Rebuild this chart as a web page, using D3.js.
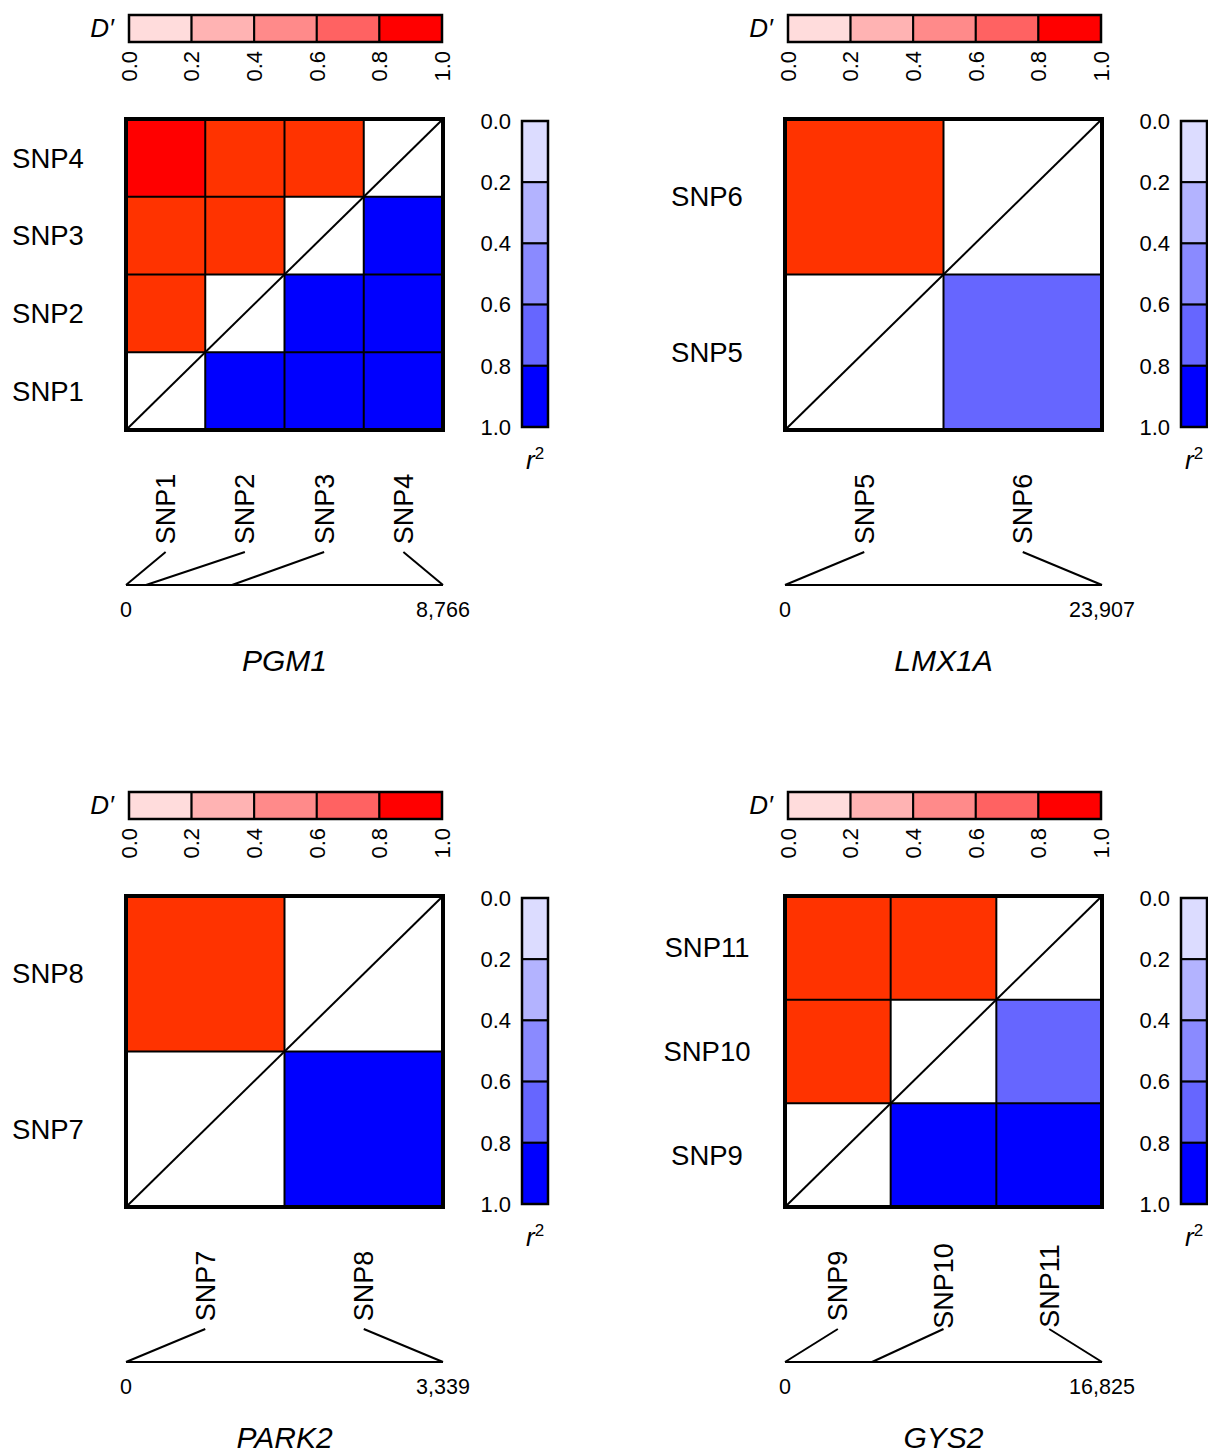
<!DOCTYPE html>
<html>
<head>
<meta charset="utf-8">
<script src="https://cdn.jsdelivr.net/npm/d3@7"></script>
<style>
  html, body { margin: 0; padding: 0; background: #fff; }
  svg text { font-family: "Liberation Sans", Arial, sans-serif; fill: #000; }
</style>
</head>
<body>
<svg id="chart" width="1208" height="1452"></svg>
<script>
// ---------------- data ----------------
const genes = ["PGM1", "LMX1A", "PARK2", "GYS2"];
const geneLengths = [8766, 23907, 3339, 16825];

const pgm1Snps = ["SNP1", "SNP2", "SNP3", "SNP4"];
const lmx1aSnps = ["SNP5", "SNP6"];
const park2Snps = ["SNP7", "SNP8"];
const gys2Snps = ["SNP9", "SNP10", "SNP11"];

const pgm1Pos = [0, 553, 2931, 8766];
const lmx1aPos = [0, 23907];
const park2Pos = [0, 3339];
const gys2Pos = [0, 4618, 16825];

// pair values [snpA, snpB, value]
const pgm1Dprime = [["SNP1","SNP2",0.9],["SNP1","SNP3",0.9],["SNP1","SNP4",1.0],["SNP2","SNP3",0.9],["SNP2","SNP4",0.9],["SNP3","SNP4",0.9]];
const pgm1R2 = [["SNP1","SNP2",0.9],["SNP1","SNP3",0.9],["SNP1","SNP4",0.9],["SNP2","SNP3",0.9],["SNP2","SNP4",0.9],["SNP3","SNP4",0.9]];
const lmx1aDprime = [["SNP5","SNP6",0.9]];
const lmx1aR2 = [["SNP5","SNP6",0.7]];
const park2Dprime = [["SNP7","SNP8",0.9]];
const park2R2 = [["SNP7","SNP8",0.9]];
const gys2Dprime = [["SNP9","SNP10",0.9],["SNP9","SNP11",0.9],["SNP10","SNP11",0.9]];
const gys2R2 = [["SNP9","SNP10",0.9],["SNP9","SNP11",0.9],["SNP10","SNP11",0.7]];

const legendTicks = [0, 0.2, 0.4, 0.6, 0.8, 1.0];
const dprimeColors = ["#FFDCDC", "#FFB3B3", "#FF8A8A", "#FF6262", "#FF0000"];
const r2Colors = ["#DCDCFF", "#B3B3FF", "#8A8AFF", "#6666FF", "#0000FF"];

const panels = [
  { gene: genes[0], len: geneLengths[0], snps: pgm1Snps, pos: pgm1Pos, dp: pgm1Dprime, r2: pgm1R2 },
  { gene: genes[1], len: geneLengths[1], snps: lmx1aSnps, pos: lmx1aPos, dp: lmx1aDprime, r2: lmx1aR2 },
  { gene: genes[2], len: geneLengths[2], snps: park2Snps, pos: park2Pos, dp: park2Dprime, r2: park2R2 },
  { gene: genes[3], len: geneLengths[3], snps: gys2Snps, pos: gys2Pos, dp: gys2Dprime, r2: gys2R2 }
];

// ---------------- layout ----------------
const origins = [[126, 119], [785, 119], [126, 896], [785, 896]];
const W = 317, H = 311;

const dCellColor = d3.scaleThreshold().domain([0.2, 0.4, 0.6, 0.8, 1.0])
  .range([...dprimeColors.slice(0, 4), "#FF3300", "#FF0000"]);
const rCellColor = d3.scaleThreshold().domain([0.2, 0.4, 0.6, 0.8])
  .range(r2Colors);

const svg = d3.select("#chart");

panels.forEach((p, pi) => {
  const [x0, y0] = origins[pi];
  const g = svg.append("g");

  const xb = d3.scaleBand().domain(p.snps).range([x0, x0 + W]);
  const yb = d3.scaleBand().domain(p.snps).range([y0 + H, y0]);

  // cells: D' above diagonal (col index < row index), r2 below
  const cells = [];
  p.dp.forEach(([a, b, v]) => cells.push({ col: a, row: b, fill: dCellColor(v) }));
  p.r2.forEach(([a, b, v]) => cells.push({ col: b, row: a, fill: rCellColor(v) }));
  g.selectAll("rect.cell").data(cells).join("rect")
    .attr("class", "cell")
    .attr("x", d => xb(d.col)).attr("y", d => yb(d.row))
    .attr("width", xb.bandwidth()).attr("height", yb.bandwidth())
    .attr("fill", d => d.fill);

  // internal grid lines
  g.selectAll("line.vg").data(p.snps.slice(1)).join("line")
    .attr("x1", d => xb(d)).attr("x2", d => xb(d))
    .attr("y1", y0).attr("y2", y0 + H)
    .attr("stroke", "#000").attr("stroke-width", 2);
  g.selectAll("line.hg").data(p.snps.slice(0, -1)).join("line")
    .attr("x1", x0).attr("x2", x0 + W)
    .attr("y1", d => yb(d)).attr("y2", d => yb(d))
    .attr("stroke", "#000").attr("stroke-width", 2);
  // diagonal
  g.append("line").attr("x1", x0).attr("y1", y0 + H).attr("x2", x0 + W).attr("y2", y0)
    .attr("stroke", "#000").attr("stroke-width", 2);
  // outer border
  g.append("rect").attr("x", x0).attr("y", y0).attr("width", W).attr("height", H)
    .attr("fill", "none").attr("stroke", "#000").attr("stroke-width", 4);

  // row labels
  g.selectAll("text.row").data(p.snps).join("text")
    .attr("x", x0 - 78).attr("y", d => yb(d) + yb.bandwidth() / 2)
    .attr("dy", "0.35em").attr("text-anchor", "middle")
    .attr("font-size", 27.5).text(d => d);

  // column labels (rotated)
  g.selectAll("text.col").data(p.snps).join("text")
    .attr("transform", d => `translate(${xb(d) + xb.bandwidth() / 2},${y0 + 390}) rotate(-90)`)
    .attr("dy", "0.35em").attr("text-anchor", "middle")
    .attr("font-size", 27).text(d => d);

  // genomic position line
  const xp = d3.scaleLinear().domain([0, p.len]).range([x0, x0 + W]);
  g.append("line").attr("x1", x0).attr("x2", x0 + W)
    .attr("y1", y0 + 466).attr("y2", y0 + 466)
    .attr("stroke", "#000").attr("stroke-width", 2);
  g.selectAll("line.conn").data(p.snps).join("line")
    .attr("x1", d => xb(d) + xb.bandwidth() / 2).attr("y1", y0 + 433)
    .attr("x2", (d, i) => xp(p.pos[i])).attr("y2", y0 + 466)
    .attr("stroke", "#000").attr("stroke-width", 2);
  g.selectAll("text.pos").data([0, p.len]).join("text")
    .attr("x", d => xp(d)).attr("y", y0 + 498)
    .attr("text-anchor", "middle").attr("font-size", 21.5)
    .text(d => d3.format(",")(d));

  // gene name
  g.append("text").attr("x", x0 + W / 2).attr("y", y0 + 552)
    .attr("text-anchor", "middle").attr("font-size", 30).attr("font-style", "italic")
    .text(p.gene);

  // D' legend (horizontal)
  const lx = x0 + 3, ly = y0 - 104, lw = 313, lh = 27;
  const ls = d3.scaleLinear().domain([0, 1]).range([lx, lx + lw]);
  const segs = d3.range(5).map(i => ({ a: legendTicks[i], b: legendTicks[i + 1], c: dprimeColors[i] }));
  g.selectAll("rect.dleg").data(segs).join("rect")
    .attr("x", d => ls(d.a)).attr("y", ly)
    .attr("width", d => ls(d.b) - ls(d.a)).attr("height", lh)
    .attr("fill", d => d.c).attr("stroke", "#000").attr("stroke-width", 2);
  g.append("rect").attr("x", lx).attr("y", ly).attr("width", lw).attr("height", lh)
    .attr("fill", "none").attr("stroke", "#000").attr("stroke-width", 2.5);
  g.selectAll("text.dtick").data(legendTicks).join("text")
    .attr("transform", d => `translate(${ls(d)},${ly + lh + 9}) rotate(-90)`)
    .attr("dy", "0.35em").attr("text-anchor", "end")
    .attr("font-size", 22).text(d => d3.format(".1f")(d));
  g.append("text").attr("x", lx - 15).attr("y", ly + 22)
    .attr("text-anchor", "end").attr("font-size", 26).attr("font-style", "italic")
    .text("D\u2032");

  // r2 legend (vertical)
  const rx = x0 + 396, ry = y0 + 2, rw = 26, rh = 306;
  const rs = d3.scaleLinear().domain([0, 1]).range([ry, ry + rh]);
  const rsegs = d3.range(5).map(i => ({ a: legendTicks[i], b: legendTicks[i + 1], c: r2Colors[i] }));
  g.selectAll("rect.rleg").data(rsegs).join("rect")
    .attr("x", rx).attr("y", d => rs(d.a))
    .attr("width", rw).attr("height", d => rs(d.b) - rs(d.a))
    .attr("fill", d => d.c).attr("stroke", "#000").attr("stroke-width", 2);
  g.append("rect").attr("x", rx).attr("y", ry).attr("width", rw).attr("height", rh)
    .attr("fill", "none").attr("stroke", "#000").attr("stroke-width", 2.5);
  g.selectAll("text.rtick").data(legendTicks).join("text")
    .attr("x", rx - 11).attr("y", d => rs(d))
    .attr("dy", "0.35em").attr("text-anchor", "end")
    .attr("font-size", 22).text(d => d3.format(".1f")(d));
  const rl = g.append("text").attr("x", rx + 4).attr("y", y0 + 350)
    .attr("font-size", 26).attr("font-style", "italic");
  rl.append("tspan").text("r");
  rl.append("tspan").attr("dy", -10).attr("font-size", 17).attr("font-style", "normal").text("2");
});
</script>
</body>
</html>
